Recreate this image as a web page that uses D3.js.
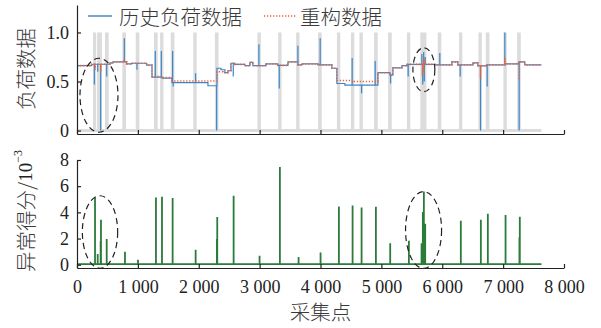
<!DOCTYPE html>
<html>
<head>
<meta charset="utf-8">
<script src="https://cdn.jsdelivr.net/npm/d3@7"></script>
<style>
  body { margin: 0; background: #fff; }
  svg { display: block; }
  .num { font-family: "Liberation Serif", "Times New Roman", serif; font-size: 18px; fill: #222; }
  .cjk { font-family: "Noto Sans CJK SC", sans-serif; font-weight: 300; font-size: 20.5px; fill: #3a3a3a; }
</style>
</head>
<body>
<svg width="601" height="328"></svg>
<script>
// step levels of the historical load [sample, value]
var loadSteps = [[0,0.662],[241,0.676],[542,0.69],[591,0.70],[816,0.68],[898,0.686],[1144,0.668],
  [1232,0.545],[1396,0.535],[1560,0.488],[2151,0.457],[2299,0.635],[2365,0.62],[2430,0.59],[2480,0.61],
  [2529,0.686],[2594,0.675],[2759,0.661],[2841,0.696],[2890,0.661],[3100,0.68],[3300,0.665],[3465,0.70],
  [3629,0.67],[3695,0.68],[3957,0.67],[4187,0.635],[4269,0.48],[4401,0.464],[4943,0.59],[5140,0.566],
  [5189,0.64],[5337,0.661],[5419,0.675],[5878,0.67],[6158,0.70],[6256,0.67],[6502,0.69],[6585,0.66],
  [6732,0.67],[7028,0.68],[7258,0.70],[7356,0.67],[7630,0.67]];
// spikes of the historical load [sample, peak]
var loadSpikes = [[285,0.47],[340,0.60],[389,0.0],[488,0.55],[777,0.94],[985,0.62],[1286,0.81],[1385,0.81],
  [1571,0.81],[1580,0.45],[1949,0.585],[2294,0.0],[2567,0.55],[2988,0.88],[3322,0.43],[3629,0.865],
  [3995,0.94],[4520,0.74],[4675,0.38],[4898,0.71],[5151,0.48],[5440,0.55],[5665,0.78],[5680,0.47],
  [5695,0.80],[5705,0.50],[5720,0.75],[5960,0.79],[6294,0.55],[6629,0.0],[6738,0.45],[7028,1.0],[7263,0.0]];
// reconstructed data
var reconSteps = [[0,0.662],[241,0.676],[542,0.69],[591,0.70],[816,0.68],[898,0.686],[1144,0.668],
  [1232,0.55],[1396,0.54],[1560,0.505],[2299,0.60],[2400,0.59],[2480,0.61],
  [2529,0.686],[2594,0.675],[2759,0.661],[2841,0.696],[2890,0.661],[3100,0.68],[3300,0.665],[3465,0.70],
  [3629,0.67],[3695,0.68],[3957,0.67],[4187,0.635],[4269,0.51],[4550,0.50],[4943,0.59],[5140,0.566],
  [5189,0.64],[5337,0.661],[5419,0.675],[5878,0.67],[6158,0.70],[6256,0.67],[6502,0.69],[6585,0.66],
  [6732,0.67],[7028,0.68],[7258,0.70],[7356,0.67],[7630,0.67]];
var reconSpikes = [[300,0.62],[389,0.60],[777,0.73],[5675,0.56],[5690,0.76],[5700,0.60],[5712,0.72],
  [6629,0.53],[7028,0.74],[7263,0.52]];
// labelled anomaly intervals [start, end]
var anomalies = [[262,315],[330,410],[460,520],[745,805],[965,1025],[1265,1325],[1365,1420],[1540,1600],
  [1910,1965],[2265,2325],[2965,3020],[3305,3360],[3600,3655],[3960,4020],[4270,4325],[4500,4555],
  [4640,4695],[4880,4940],[5110,5170],[5420,5475],[5640,5740],[5925,5985],[6275,6330],[6595,6650],
  [6715,6775],[7005,7060],[7230,7290]];
var lastSample = 7630;
// anomaly score (x1e-3)
var scoreBase = 0.05;
var scoreSpikes = [[296,5.14],[340,0.82],[388,1.8],[394,3.43],[488,1.96],[788,0.99],[1002,0.38],
  [1297,5.14],[1396,5.2],[1571,5.1],[1949,1.15],[2298,1.96],[2304,3.64],[2573,5.27],[2999,0.69],
  [3333,7.46],[3640,0.59],[4001,0.94],[4302,4.45],[4527,4.53],[4675,4.38],[4910,4.43],[5145,1.65],
  [5452,1.83],[5660,1.65],[5681,4.02],[5698,5.6],[5710,2.5],[5720,3.13],[6305,3.36],[6634,3.44],
  [6749,3.89],[7040,3.79],[7268,2.1],[7274,3.66]];
var xTicks = [0,1000,2000,3000,4000,5000,6000,7000,8000];
var topTicks = [0,0.5,1];
var botTicks = [0,2,4,6,8];
// dashed ellipses [cx, cy, rx, ry] in data units
var topEllipses = [[361,0.36,312,0.377],[5698,0.62,180,0.224]];
var botEllipses = [[378,2.5,290,2.77],[5693,2.65,296,2.93]];

var svg = d3.select('svg');
var xScale = d3.scaleLinear().domain([0,8000]).range([77,564]);
var yTop = d3.scaleLinear().domain([-0.035,1.28]).range([134,5]);
var yBot = d3.scaleLinear().domain([-0.25,8]).range([268,160]);
var fmt = d3.formatLocale({decimal: '.', thousands: ' ', grouping: [3], currency: ['','']}).format(',');

// merge steps and spikes into one step path
function withSpikes(steps, spikes) {
    var pts = steps.map(function (d) { return [d[0], d[1], 0]; });
    var bis = d3.bisector(function (d) { return d[0]; }).right;
    spikes.forEach(function (s) {
        var lvl = steps[Math.max(0, bis(steps, s[0]) - 1)][1];
        pts.push([s[0], s[1], 1]);
        pts.push([s[0], lvl, 2]);
    });
    pts.sort(function (a, b) { return a[0] - b[0] || a[2] - b[2]; });
    return pts;
}

// ---- top panel ----
var gTop = svg.append('g');
gTop.selectAll('.band').data(anomalies).enter().append('rect')
    .attr('x', function (d) { return xScale(d[0]); })
    .attr('width', function (d) { return xScale(d[1]) - xScale(d[0]); })
    .attr('y', yTop(1)).attr('height', yTop(0) - yTop(1))
    .attr('fill', '#dcdcdc');
gTop.append('line')
    .attr('x1', xScale(0)).attr('x2', xScale(lastSample))
    .attr('y1', yTop(0)).attr('y2', yTop(0))
    .attr('stroke', '#dcdcdc').attr('stroke-width', 3);

var lineTop = d3.line().curve(d3.curveStepAfter)
    .x(function (d) { return xScale(d[0]); })
    .y(function (d) { return yTop(d[1]); });
gTop.append('path').datum(withSpikes(loadSteps, loadSpikes))
    .attr('d', lineTop).attr('fill', 'none')
    .attr('stroke', '#3a86c8').attr('stroke-width', 1.2);
gTop.append('path').datum(withSpikes(reconSteps, reconSpikes))
    .attr('d', lineTop).attr('fill', 'none')
    .attr('stroke', '#ea6440').attr('stroke-width', 1.6)
    .attr('stroke-dasharray', '1.3 1.7');

gTop.append('g').attr('transform', 'translate(0,134)')
    .call(d3.axisBottom(xScale).tickValues(xTicks).tickFormat('').tickSizeInner(-4).tickSizeOuter(0));
gTop.append('g').attr('transform', 'translate(77,0)')
    .call(d3.axisLeft(yTop).tickValues(topTicks)
        .tickFormat(function (d) { return d === 0 ? '0' : d3.format('.1f')(d); })
        .tickSizeInner(-4).tickSizeOuter(0).tickPadding(8));

gTop.selectAll('.ell').data(topEllipses).enter().append('ellipse')
    .attr('cx', function (d) { return xScale(d[0]); })
    .attr('cy', function (d) { return yTop(d[1]); })
    .attr('rx', function (d) { return xScale(d[2]) - xScale(0); })
    .attr('ry', function (d) { return yTop(0) - yTop(d[3]); })
    .attr('fill', 'none').attr('stroke', '#222').attr('stroke-width', 1.2)
    .attr('stroke-dasharray', '6 4');

// legend
var leg = svg.append('g');
leg.append('line').attr('x1', 88).attr('x2', 112).attr('y1', 16).attr('y2', 16)
    .attr('stroke', '#3a86c8').attr('stroke-width', 1.4);
leg.append('text').attr('class', 'cjk').attr('x', 119).attr('y', 16)
    .attr('dominant-baseline', 'central').text('历史负荷数据');
leg.append('line').attr('x1', 264).attr('x2', 296).attr('y1', 16).attr('y2', 16)
    .attr('stroke', '#ea6440').attr('stroke-width', 1.6).attr('stroke-dasharray', '1.3 1.7');
leg.append('text').attr('class', 'cjk').attr('x', 300).attr('y', 16)
    .attr('dominant-baseline', 'central').text('重构数据');

svg.append('text').attr('class', 'cjk')
    .attr('transform', 'translate(25,69) rotate(-90)')
    .attr('text-anchor', 'middle').attr('dominant-baseline', 'central')
    .text('负荷数据');

// ---- bottom panel ----
var gBot = svg.append('g');
var scorePts = [[0, scoreBase]];
scoreSpikes.forEach(function (s) {
    scorePts.push([s[0], scoreBase], [s[0], s[1]], [s[0], scoreBase]);
});
scorePts.push([lastSample, scoreBase]);
var lineBot = d3.line()
    .x(function (d) { return xScale(d[0]); })
    .y(function (d) { return yBot(d[1]); });
gBot.append('path').datum(scorePts).attr('d', lineBot)
    .attr('fill', 'none').attr('stroke', '#2b7b3a').attr('stroke-width', 1.8)
    .attr('stroke-linejoin', 'miter');

gBot.append('g').attr('transform', 'translate(0,268)')
    .call(d3.axisBottom(xScale).tickValues(xTicks).tickFormat(fmt)
        .tickSizeInner(-4).tickSizeOuter(0).tickPadding(12));
gBot.append('g').attr('transform', 'translate(77,0)')
    .call(d3.axisLeft(yBot).tickValues(botTicks)
        .tickSizeInner(-4).tickSizeOuter(0).tickPadding(8));

gBot.selectAll('.ell').data(botEllipses).enter().append('ellipse')
    .attr('cx', function (d) { return xScale(d[0]); })
    .attr('cy', function (d) { return yBot(d[1]); })
    .attr('rx', function (d) { return xScale(d[2]) - xScale(0); })
    .attr('ry', function (d) { return yBot(0) - yBot(d[3]); })
    .attr('fill', 'none').attr('stroke', '#222').attr('stroke-width', 1.2)
    .attr('stroke-dasharray', '6 4');

var yl = svg.append('text').attr('class', 'cjk')
    .attr('transform', 'translate(25,211) rotate(-90)')
    .attr('text-anchor', 'middle').attr('dominant-baseline', 'central');
yl.append('tspan').text('异常得分/');
yl.append('tspan').attr('class', 'num').style('font-size', '19px').text('10');
yl.append('tspan').attr('class', 'num').style('font-size', '12px').attr('dy', '-0.6em').text('−3');

svg.append('text').attr('class', 'cjk')
    .attr('x', xScale(4000)).attr('y', 311)
    .attr('text-anchor', 'middle').attr('dominant-baseline', 'central')
    .text('采集点');

svg.selectAll('.tick text').attr('class', 'num').attr('fill', '#222');
svg.selectAll('.domain, .tick line').attr('stroke', '#222').attr('stroke-width', 1.2);
</script>
</body>
</html>
